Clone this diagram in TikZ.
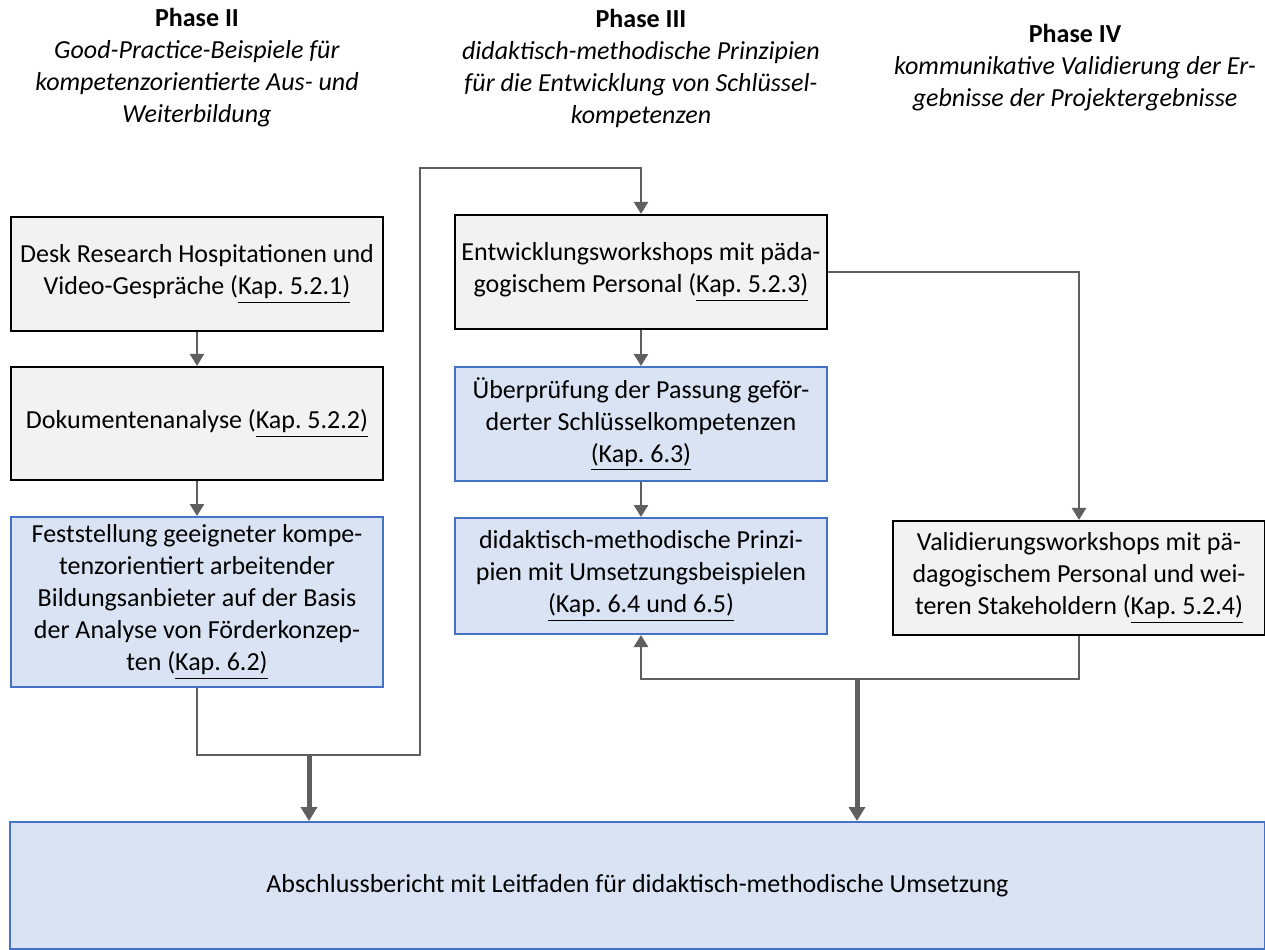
\documentclass[tikz,border=0pt]{standalone}
\usepackage{fontspec}
\setmainfont{Carlito}
\usepackage{tikz}
\usetikzlibrary{positioning, arrows.meta}

\definecolor{boxgray}{HTML}{F2F2F2}
\definecolor{boxblue}{HTML}{DAE3F3}
\definecolor{lineblue}{HTML}{4472C4}
\definecolor{linegray}{HTML}{5F5F5F}

\frenchspacing

\begin{document}
\begin{tikzpicture}[
    x=0.5pt, y=-0.5pt,
    every node/.style={font=\fontsize{13}{16}\selectfont},
    graybox/.style={rectangle, draw=black, fill=boxgray, line width=1.1pt, align=center, minimum width=186pt, inner sep=2pt},
    bluebox/.style={rectangle, draw=lineblue, fill=boxblue, line width=1pt, align=center, minimum width=186pt, inner sep=2pt},
    conn/.style={draw=linegray, line width=1.3pt, -{Triangle[width=7pt, length=6pt]}},
    mainarrow/.style={draw=linegray, line width=2.5pt, -{Triangle[width=8pt, length=7pt]}},
    phase/.style={align=center}
]

    \useasboundingbox (0,0) rectangle (1265,949);

    % === Phase headings ===
    \node[phase] (ph2) at (197,68) {\textbf{Phase II}\\\textit{Good-Practice-Beispiele für}\\\textit{kompetenzorientierte Aus- und}\\\textit{Weiterbildung}};
    \node[phase] (ph3) at (641,68) {\textbf{Phase III}\\\textit{didaktisch-methodische Prinzipien}\\\textit{für die Entwicklung von Schlüssel-}\\\textit{kompetenzen}};
    \node[phase] (ph4) at (1075,68) {\textbf{Phase IV}\\\textit{kommunikative Validierung der Er-}\\\textit{gebnisse der Projektergebnisse}};

    % === Phase II ===
    \node[graybox, minimum height=57pt] (desk) at (197,274) {Desk Research Hospitationen und\\Video-Gespräche (\underline{Kap. 5.2.1)}};
    \node[graybox, minimum height=56.5pt] (doku) at (197,423.5) {Dokumentenanalyse (\underline{Kap. 5.2.2)}};
    \node[bluebox, minimum height=85pt] (fest) at (197,602) {Feststellung geeigneter kompe-\\tenzorientiert arbeitender\\Bildungsanbieter auf der Basis\\der Analyse von Förderkonzep-\\ten (\underline{Kap. 6.2)}};

    % === Phase III ===
    \node[graybox, minimum height=57pt] (entw) at (641,272) {Entwicklungsworkshops mit päda-\\gogischem Personal (\underline{Kap. 5.2.3)}};
    \node[bluebox, minimum height=57pt] (pruef) at (641,424) {Überprüfung der Passung gefö\-r-\\derter Schlüsselkompetenzen\\\underline{(Kap. 6.3)}};
    \node[bluebox, minimum height=58pt] (prinz) at (641,576) {didaktisch-methodische Prinzi-\\pien mit Umsetzungsbeispielen\\\underline{(Kap. 6.4 und 6.5)}};

    % === Phase IV ===
    \node[graybox, minimum height=57pt] (valid) at (1079,578) {Validierungsworkshops mit pä-\\dagogischem Personal und wei-\\teren Stakeholdern (\underline{Kap. 5.2.4)}};

    % === Final report ===
    \node[bluebox, minimum width=627.5pt, minimum height=63.5pt] (bericht) at (637.5,885.5) {Abschlussbericht mit Leitfaden für didaktisch-methodische Umsetzung};

    % corner points
    \coordinate (loopB) at (420,755);
    \coordinate (loopT) at (420,168);
    \coordinate (mergeL) at (309,755);
    \coordinate (mergeR) at (857,679);

    % === Connectors ===
    \draw[conn] (desk) -- (doku);
    \draw[conn] (doku) -- (fest);
    \draw[conn] (fest.south) |- (loopB) -- (loopT) -| (entw.north);
    \draw[mainarrow] (mergeL) -- (mergeL |- bericht.north);

    \draw[conn] (entw) -- (pruef);
    \draw[conn] (pruef) -- (prinz);
    \draw[conn] (entw.east) -| (valid.north);
    \draw[conn] (valid.south) |- (mergeR) -| (prinz.south);
    \draw[mainarrow] (mergeR) -- (mergeR |- bericht.north);

\end{tikzpicture}
\end{document}
